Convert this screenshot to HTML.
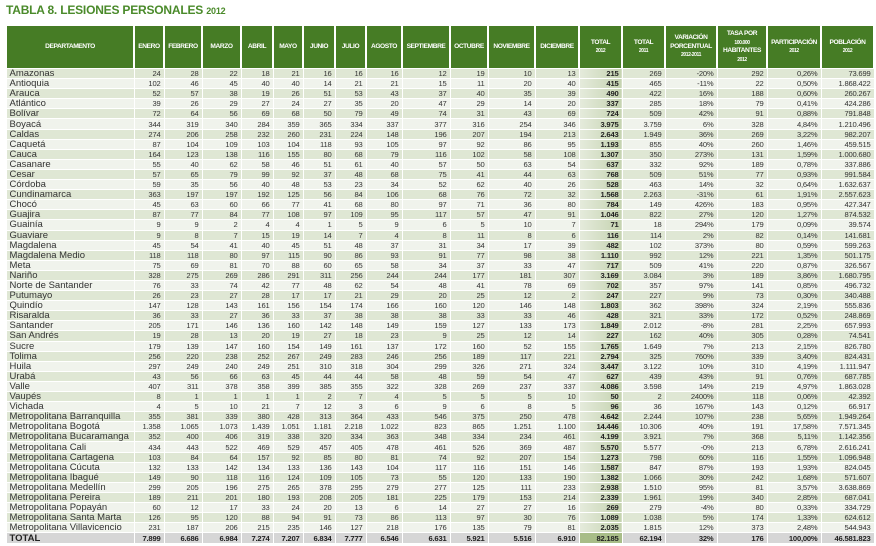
<!DOCTYPE html>
<html><head><meta charset="utf-8"><style>
*{margin:0;padding:0;box-sizing:border-box}
body{width:876px;height:546px;background:#fff;position:relative;overflow:hidden;font-family:"Liberation Sans",sans-serif}
h1{position:absolute;left:6px;top:3px;font-size:12px;color:#4a8a2a;font-weight:bold;letter-spacing:-0.2px}
h1 span{font-size:9px}
table{position:absolute;left:5px;top:25px;border-collapse:collapse;table-layout:fixed;width:868px}
td,th{border:1px solid #fff;padding:0 3px 0 0;overflow:hidden;white-space:nowrap}
th{background:#467c25;color:#fff;font-size:6.6px;font-weight:bold;height:43px;text-align:center;padding:0;letter-spacing:-0.4px;line-height:8.5px;border-width:1px 2px}
th small{font-size:5px}
td{height:10.1px;font-size:7.6px;line-height:9px;text-align:right;color:#333;letter-spacing:-0.2px}
td:first-child{text-align:left;font-size:9.5px;padding-left:3px;color:#333;letter-spacing:0}
tr:nth-child(even) td{background:#dfe7d4}
tr:nth-child(odd) td{background:#f0f3ec}
td:nth-child(14){font-weight:bold;background:linear-gradient(90deg,#e5ebdc,#c5d3b0)!important;color:#222}
tr.t td{background:#d6d6d6!important;font-weight:bold;height:11px;color:#222}
tr.t td:nth-child(14){background:#a8bd88!important}
</style></head><body>
<h1>TABLA 8. LESIONES PERSONALES <span>2012</span></h1>
<table>
<colgroup><col style="width:128px"><col style="width:30px"><col style="width:38px"><col style="width:39px"><col style="width:32px"><col style="width:30px"><col style="width:32px"><col style="width:31px"><col style="width:36px"><col style="width:48px"><col style="width:38px"><col style="width:47px"><col style="width:44px"><col style="width:43px"><col style="width:43px"><col style="width:52px"><col style="width:50px"><col style="width:54px"><col style="width:53px"></colgroup>
<tr><th>DEPARTAMENTO</th><th>ENERO</th><th>FEBRERO</th><th>MARZO</th><th>ABRIL</th><th>MAYO</th><th>JUNIO</th><th>JULIO</th><th>AGOSTO</th><th>SEPTIEMBRE</th><th>OCTUBRE</th><th>NOVIEMBRE</th><th>DICIEMBRE</th><th>TOTAL<br><small>2012</small></th><th>TOTAL<br><small>2011</small></th><th>VARIACIÓN<br>PORCENTUAL<br><small>2012-2011</small></th><th>TASA POR<br><small>100.000</small><br>HABITANTES<br><small>2012</small></th><th>PARTICIPACIÓN<br><small>2012</small></th><th>POBLACIÓN<br><small>2012</small></th></tr>
<tr><td>Amazonas</td><td>24</td><td>28</td><td>22</td><td>18</td><td>21</td><td>16</td><td>16</td><td>16</td><td>12</td><td>19</td><td>10</td><td>13</td><td>215</td><td>269</td><td>-20%</td><td>292</td><td>0,26%</td><td>73.699</td></tr>
<tr><td>Antioquia</td><td>102</td><td>46</td><td>45</td><td>40</td><td>40</td><td>14</td><td>21</td><td>21</td><td>15</td><td>11</td><td>20</td><td>40</td><td>415</td><td>465</td><td>-11%</td><td>22</td><td>0,50%</td><td>1.868.422</td></tr>
<tr><td>Arauca</td><td>52</td><td>57</td><td>38</td><td>19</td><td>26</td><td>51</td><td>53</td><td>43</td><td>37</td><td>40</td><td>35</td><td>39</td><td>490</td><td>422</td><td>16%</td><td>188</td><td>0,60%</td><td>260.267</td></tr>
<tr><td>Atlántico</td><td>39</td><td>26</td><td>29</td><td>27</td><td>24</td><td>27</td><td>35</td><td>20</td><td>47</td><td>29</td><td>14</td><td>20</td><td>337</td><td>285</td><td>18%</td><td>79</td><td>0,41%</td><td>424.286</td></tr>
<tr><td>Bolívar</td><td>72</td><td>64</td><td>56</td><td>69</td><td>68</td><td>50</td><td>79</td><td>49</td><td>74</td><td>31</td><td>43</td><td>69</td><td>724</td><td>509</td><td>42%</td><td>91</td><td>0,88%</td><td>791.848</td></tr>
<tr><td>Boyacá</td><td>344</td><td>319</td><td>340</td><td>284</td><td>359</td><td>365</td><td>334</td><td>337</td><td>377</td><td>316</td><td>254</td><td>346</td><td>3.975</td><td>3.759</td><td>6%</td><td>328</td><td>4,84%</td><td>1.210.496</td></tr>
<tr><td>Caldas</td><td>274</td><td>206</td><td>258</td><td>232</td><td>260</td><td>231</td><td>224</td><td>148</td><td>196</td><td>207</td><td>194</td><td>213</td><td>2.643</td><td>1.949</td><td>36%</td><td>269</td><td>3,22%</td><td>982.207</td></tr>
<tr><td>Caquetá</td><td>87</td><td>104</td><td>109</td><td>103</td><td>104</td><td>118</td><td>93</td><td>105</td><td>97</td><td>92</td><td>86</td><td>95</td><td>1.193</td><td>855</td><td>40%</td><td>260</td><td>1,46%</td><td>459.515</td></tr>
<tr><td>Cauca</td><td>164</td><td>123</td><td>138</td><td>116</td><td>155</td><td>80</td><td>68</td><td>79</td><td>116</td><td>102</td><td>58</td><td>108</td><td>1.307</td><td>350</td><td>273%</td><td>131</td><td>1,59%</td><td>1.000.680</td></tr>
<tr><td>Casanare</td><td>55</td><td>40</td><td>62</td><td>58</td><td>46</td><td>51</td><td>61</td><td>40</td><td>57</td><td>50</td><td>63</td><td>54</td><td>637</td><td>332</td><td>92%</td><td>189</td><td>0,78%</td><td>337.886</td></tr>
<tr><td>Cesar</td><td>57</td><td>65</td><td>79</td><td>99</td><td>92</td><td>37</td><td>48</td><td>68</td><td>75</td><td>41</td><td>44</td><td>63</td><td>768</td><td>509</td><td>51%</td><td>77</td><td>0,93%</td><td>991.584</td></tr>
<tr><td>Córdoba</td><td>59</td><td>35</td><td>56</td><td>40</td><td>48</td><td>53</td><td>23</td><td>34</td><td>52</td><td>62</td><td>40</td><td>26</td><td>528</td><td>463</td><td>14%</td><td>32</td><td>0,64%</td><td>1.632.637</td></tr>
<tr><td>Cundinamarca</td><td>363</td><td>197</td><td>197</td><td>192</td><td>125</td><td>56</td><td>84</td><td>106</td><td>68</td><td>76</td><td>72</td><td>32</td><td>1.568</td><td>2.263</td><td>-31%</td><td>61</td><td>1,91%</td><td>2.557.623</td></tr>
<tr><td>Chocó</td><td>45</td><td>63</td><td>60</td><td>66</td><td>77</td><td>41</td><td>68</td><td>80</td><td>97</td><td>71</td><td>36</td><td>80</td><td>784</td><td>149</td><td>426%</td><td>183</td><td>0,95%</td><td>427.347</td></tr>
<tr><td>Guajira</td><td>87</td><td>77</td><td>84</td><td>77</td><td>108</td><td>97</td><td>109</td><td>95</td><td>117</td><td>57</td><td>47</td><td>91</td><td>1.046</td><td>822</td><td>27%</td><td>120</td><td>1,27%</td><td>874.532</td></tr>
<tr><td>Guainía</td><td>9</td><td>9</td><td>2</td><td>4</td><td>4</td><td>1</td><td>5</td><td>9</td><td>6</td><td>5</td><td>10</td><td>7</td><td>71</td><td>18</td><td>294%</td><td>179</td><td>0,09%</td><td>39.574</td></tr>
<tr><td>Guaviare</td><td>9</td><td>8</td><td>7</td><td>15</td><td>19</td><td>14</td><td>7</td><td>4</td><td>8</td><td>11</td><td>8</td><td>6</td><td>116</td><td>114</td><td>2%</td><td>82</td><td>0,14%</td><td>141.681</td></tr>
<tr><td>Magdalena</td><td>45</td><td>54</td><td>41</td><td>40</td><td>45</td><td>51</td><td>48</td><td>37</td><td>31</td><td>34</td><td>17</td><td>39</td><td>482</td><td>102</td><td>373%</td><td>80</td><td>0,59%</td><td>599.263</td></tr>
<tr><td>Magdalena Medio</td><td>118</td><td>118</td><td>80</td><td>97</td><td>115</td><td>90</td><td>86</td><td>93</td><td>91</td><td>77</td><td>98</td><td>38</td><td>1.110</td><td>992</td><td>12%</td><td>221</td><td>1,35%</td><td>501.175</td></tr>
<tr><td>Meta</td><td>75</td><td>69</td><td>81</td><td>70</td><td>88</td><td>60</td><td>65</td><td>58</td><td>34</td><td>37</td><td>33</td><td>47</td><td>717</td><td>509</td><td>41%</td><td>220</td><td>0,87%</td><td>326.567</td></tr>
<tr><td>Nariño</td><td>328</td><td>275</td><td>269</td><td>286</td><td>291</td><td>311</td><td>256</td><td>244</td><td>244</td><td>177</td><td>181</td><td>307</td><td>3.169</td><td>3.084</td><td>3%</td><td>189</td><td>3,86%</td><td>1.680.795</td></tr>
<tr><td>Norte de Santander</td><td>76</td><td>33</td><td>74</td><td>42</td><td>77</td><td>48</td><td>62</td><td>54</td><td>48</td><td>41</td><td>78</td><td>69</td><td>702</td><td>357</td><td>97%</td><td>141</td><td>0,85%</td><td>496.732</td></tr>
<tr><td>Putumayo</td><td>26</td><td>23</td><td>27</td><td>28</td><td>17</td><td>17</td><td>21</td><td>29</td><td>20</td><td>25</td><td>12</td><td>2</td><td>247</td><td>227</td><td>9%</td><td>73</td><td>0,30%</td><td>340.488</td></tr>
<tr><td>Quindío</td><td>147</td><td>128</td><td>143</td><td>161</td><td>156</td><td>154</td><td>174</td><td>166</td><td>160</td><td>120</td><td>146</td><td>148</td><td>1.803</td><td>362</td><td>398%</td><td>324</td><td>2,19%</td><td>555.836</td></tr>
<tr><td>Risaralda</td><td>36</td><td>33</td><td>27</td><td>36</td><td>33</td><td>37</td><td>38</td><td>38</td><td>38</td><td>33</td><td>33</td><td>46</td><td>428</td><td>321</td><td>33%</td><td>172</td><td>0,52%</td><td>248.869</td></tr>
<tr><td>Santander</td><td>205</td><td>171</td><td>146</td><td>136</td><td>160</td><td>142</td><td>148</td><td>149</td><td>159</td><td>127</td><td>133</td><td>173</td><td>1.849</td><td>2.012</td><td>-8%</td><td>281</td><td>2,25%</td><td>657.993</td></tr>
<tr><td>San Andrés</td><td>19</td><td>28</td><td>13</td><td>20</td><td>19</td><td>27</td><td>18</td><td>23</td><td>9</td><td>25</td><td>12</td><td>14</td><td>227</td><td>162</td><td>40%</td><td>305</td><td>0,28%</td><td>74.541</td></tr>
<tr><td>Sucre</td><td>179</td><td>139</td><td>147</td><td>160</td><td>154</td><td>149</td><td>161</td><td>137</td><td>172</td><td>160</td><td>52</td><td>155</td><td>1.765</td><td>1.649</td><td>7%</td><td>213</td><td>2,15%</td><td>826.780</td></tr>
<tr><td>Tolima</td><td>256</td><td>220</td><td>238</td><td>252</td><td>267</td><td>249</td><td>283</td><td>246</td><td>256</td><td>189</td><td>117</td><td>221</td><td>2.794</td><td>325</td><td>760%</td><td>339</td><td>3,40%</td><td>824.431</td></tr>
<tr><td>Huila</td><td>297</td><td>249</td><td>240</td><td>249</td><td>251</td><td>310</td><td>318</td><td>304</td><td>299</td><td>326</td><td>271</td><td>324</td><td>3.447</td><td>3.122</td><td>10%</td><td>310</td><td>4,19%</td><td>1.111.947</td></tr>
<tr><td>Urabá</td><td>43</td><td>56</td><td>66</td><td>63</td><td>45</td><td>44</td><td>44</td><td>58</td><td>48</td><td>59</td><td>54</td><td>47</td><td>627</td><td>439</td><td>43%</td><td>91</td><td>0,76%</td><td>687.785</td></tr>
<tr><td>Valle</td><td>407</td><td>311</td><td>378</td><td>358</td><td>399</td><td>385</td><td>355</td><td>322</td><td>328</td><td>269</td><td>237</td><td>337</td><td>4.086</td><td>3.598</td><td>14%</td><td>219</td><td>4,97%</td><td>1.863.028</td></tr>
<tr><td>Vaupés</td><td>8</td><td>1</td><td>1</td><td>1</td><td>1</td><td>2</td><td>7</td><td>4</td><td>5</td><td>5</td><td>5</td><td>10</td><td>50</td><td>2</td><td>2400%</td><td>118</td><td>0,06%</td><td>42.392</td></tr>
<tr><td>Vichada</td><td>4</td><td>5</td><td>10</td><td>21</td><td>7</td><td>12</td><td>3</td><td>6</td><td>9</td><td>6</td><td>8</td><td>5</td><td>96</td><td>36</td><td>167%</td><td>143</td><td>0,12%</td><td>66.917</td></tr>
<tr><td>Metropolitana Barranquilla</td><td>355</td><td>381</td><td>339</td><td>380</td><td>428</td><td>313</td><td>364</td><td>433</td><td>546</td><td>375</td><td>250</td><td>478</td><td>4.642</td><td>2.244</td><td>107%</td><td>238</td><td>5,65%</td><td>1.949.264</td></tr>
<tr><td>Metropolitana Bogotá</td><td>1.358</td><td>1.065</td><td>1.073</td><td>1.439</td><td>1.051</td><td>1.181</td><td>2.218</td><td>1.022</td><td>823</td><td>865</td><td>1.251</td><td>1.100</td><td>14.446</td><td>10.306</td><td>40%</td><td>191</td><td>17,58%</td><td>7.571.345</td></tr>
<tr><td>Metropolitana Bucaramanga</td><td>352</td><td>400</td><td>406</td><td>319</td><td>338</td><td>320</td><td>334</td><td>363</td><td>348</td><td>334</td><td>234</td><td>461</td><td>4.199</td><td>3.921</td><td>7%</td><td>368</td><td>5,11%</td><td>1.142.356</td></tr>
<tr><td>Metropolitana Cali</td><td>434</td><td>443</td><td>522</td><td>469</td><td>529</td><td>457</td><td>405</td><td>478</td><td>461</td><td>526</td><td>369</td><td>487</td><td>5.570</td><td>5.577</td><td>-0%</td><td>213</td><td>6,78%</td><td>2.616.241</td></tr>
<tr><td>Metropolitana Cartagena</td><td>103</td><td>84</td><td>64</td><td>157</td><td>92</td><td>85</td><td>80</td><td>81</td><td>74</td><td>92</td><td>207</td><td>154</td><td>1.273</td><td>798</td><td>60%</td><td>116</td><td>1,55%</td><td>1.096.948</td></tr>
<tr><td>Metropolitana Cúcuta</td><td>132</td><td>133</td><td>142</td><td>134</td><td>133</td><td>136</td><td>143</td><td>104</td><td>117</td><td>116</td><td>151</td><td>146</td><td>1.587</td><td>847</td><td>87%</td><td>193</td><td>1,93%</td><td>824.045</td></tr>
<tr><td>Metropolitana Ibagué</td><td>149</td><td>90</td><td>118</td><td>116</td><td>124</td><td>109</td><td>105</td><td>73</td><td>55</td><td>120</td><td>133</td><td>190</td><td>1.382</td><td>1.066</td><td>30%</td><td>242</td><td>1,68%</td><td>571.607</td></tr>
<tr><td>Metropolitana Medellín</td><td>299</td><td>205</td><td>196</td><td>275</td><td>265</td><td>378</td><td>295</td><td>279</td><td>277</td><td>125</td><td>111</td><td>233</td><td>2.938</td><td>1.510</td><td>95%</td><td>81</td><td>3,57%</td><td>3.638.869</td></tr>
<tr><td>Metropolitana Pereira</td><td>189</td><td>211</td><td>201</td><td>180</td><td>193</td><td>208</td><td>205</td><td>181</td><td>225</td><td>179</td><td>153</td><td>214</td><td>2.339</td><td>1.961</td><td>19%</td><td>340</td><td>2,85%</td><td>687.041</td></tr>
<tr><td>Metropolitana Popayán</td><td>60</td><td>12</td><td>17</td><td>33</td><td>24</td><td>20</td><td>13</td><td>6</td><td>14</td><td>27</td><td>27</td><td>16</td><td>269</td><td>279</td><td>-4%</td><td>80</td><td>0,33%</td><td>334.729</td></tr>
<tr><td>Metropolitana Santa Marta</td><td>126</td><td>95</td><td>120</td><td>88</td><td>94</td><td>91</td><td>73</td><td>86</td><td>113</td><td>97</td><td>30</td><td>76</td><td>1.089</td><td>1.038</td><td>5%</td><td>174</td><td>1,33%</td><td>624.612</td></tr>
<tr><td>Metropolitana Villavicencio</td><td>231</td><td>187</td><td>206</td><td>215</td><td>235</td><td>146</td><td>127</td><td>218</td><td>176</td><td>135</td><td>79</td><td>81</td><td>2.035</td><td>1.815</td><td>12%</td><td>373</td><td>2,48%</td><td>544.943</td></tr>
<tr class="t"><td>TOTAL</td><td>7.899</td><td>6.686</td><td>6.984</td><td>7.274</td><td>7.207</td><td>6.834</td><td>7.777</td><td>6.546</td><td>6.631</td><td>5.921</td><td>5.516</td><td>6.910</td><td>82.185</td><td>62.194</td><td>32%</td><td>176</td><td>100,00%</td><td>46.581.823</td></tr>
</table>
</body></html>
